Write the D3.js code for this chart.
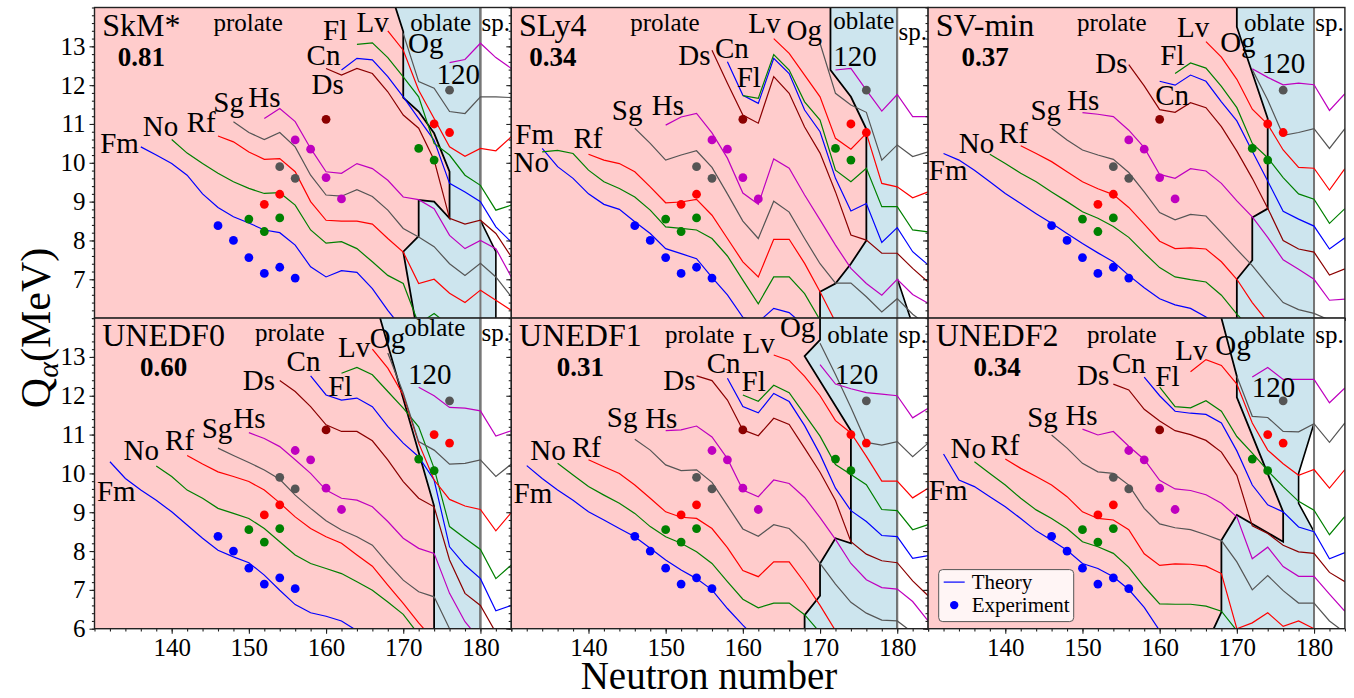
<!DOCTYPE html>
<html><head><meta charset="utf-8">
<script src="https://cdn.jsdelivr.net/npm/d3@7"></script>
<style>
html,body{margin:0;padding:0;background:#fff;}
svg{display:block;}
text{font-family:"Liberation Serif","Times New Roman",serif;fill:#000;}
</style></head><body>
<svg id="chart" width="1354" height="698"></svg>
<script>
// ---------------- data ----------------
const models = ["SkM*","SLy4","SV-min","UNEDF0","UNEDF1","UNEDF2"];
const rmsDev = ["0.81","0.34","0.37","0.60","0.31","0.34"];
const elements = ["Fm","No","Rf","Sg","Hs","Ds","Cn","Fl","Lv","Og","120"];
const xTicks = [140,150,160,170,180];
const yTicksTop = [7,8,9,10,11,12,13];
const yTicksBottom = [6,7,8,9,10,11,12,13];

// theory: [first neutron number, Q values every 2 neutrons]
const theorySkM = [
 [136,[10.41,10.2,9.98,9.68,9.2,8.85,8.61,8.45,8.27,8.2,7.88,7.32,7.06,7.22,7.18,6.76,6.2,5.7]],
 [140,[10.6,10.25,9.98,9.73,9.51,9.34,9.21,9.23,8.91,8.27,7.93,7.97,7.79,7.45,7.1,6.89,5.85,6.12,5.8]],
 [146,[10.69,10.54,10.28,10.09,10.11,9.77,9.0,8.52,8.5,8.5,8.42,8.05,7.7,6.89,7.0,6.64,6.4,6.72,6.46,6.2]],
 [148,[11.06,10.78,10.6,10.78,10.41,9.68,9.17,9.14,9.31,9.13,8.78,8.31,8.09,7.84,7.4,7.1,7.41,7.06,6.55]],
 [152,[11.14,11.4,11.06,10.37,9.77,9.73,9.98,9.85,9.55,9.12,9.05,8.82,8.13,7.79,8.0,7.79,7.06]],
 [160,[12.43,12.26,12.43,12.3,11.83,11.23,10.89,10.07,8.57,8.42,8.52,8.18,7.58]],
 [162,[12.39,12.69,12.65,12.22,11.7,11.14,10.58,9.47,9.25,9.0,8.35,7.96]],
 [164,[13.05,13.09,12.71,12.21,11.7,10.5,10.2,9.68,9.42,8.78,8.91]],
 [168,[13.4,12.9,11.87,11.14,10.41,10.17,10.37,10.31,10.67]],
 [170,[13.33,12.09,11.92,11.32,11.27,11.7,11.7,11.68]],
 [176,[12.58,12.66,13.08,12.71,12.43]]
];
const theorySLy4 = [
 [134,[10.37,9.9,9.6,9.2,8.93,8.8,8.48,8.18,7.79,7.66,7.53,7.05,6.6,6.02,5.9,6.25,6.14,5.8]],
 [134,[10.28,10.32,10.24,9.81,9.51,9.34,9.12,8.78,8.35,8.31,8.27,8.05,7.6,6.98,6.37,7.06,7.06,6.63,5.95,5.6]],
 [140,[10.22,10.07,9.98,9.77,9.38,8.97,8.99,9.06,8.65,8.05,7.45,7.06,8.03,8.03,7.41,6.68,5.9]],
 [146,[10.89,10.5,10.07,10.2,10.31,9.88,9.2,8.5,8.05,9.01,8.73,8.05,7.4,6.9,6.9,6.55,6.16,6.5,6.1,5.8]],
 [150,[10.97,11.18,11.27,10.77,10.12,9.22,8.93,10.1,9.86,9.17,8.53,7.88,7.28,6.89,6.59,7.0,6.61,6.38]],
 [156,[12.9,12.05,11.23,11.02,12.22,11.79,10.92,10.25,9.25,8.14,8.01,7.67,7.67,7.28,6.93]],
 [158,[12.6,11.74,11.53,12.69,12.3,11.36,10.8,9.6,8.76,8.95,7.95,8.33,7.71,7.37]],
 [160,[11.73,11.66,12.79,12.39,11.57,11.1,9.81,9.51,9.86,8.87,8.87,8.27,8.22]],
 [164,[13.2,12.82,12.26,11.7,10.63,10.35,10.76,9.47,9.38,9.1,9.25]],
 [170,[13.08,11.79,11.49,11.3,10.07,10.46,10.16,10.28]],
 [172,[12.39,12.43,11.87,11.33,11.76,11.19,11.19]]
];
const theorySVmin = [
 [132,[10.24,10.07,9.81,9.51,9.21,8.95,8.69,8.44,8.18,7.92,7.68,7.45,7.1,6.78,6.5,6.34,6.25,6.03,5.7]],
 [138,[10.22,9.98,9.73,9.51,9.25,9.0,8.74,8.57,8.36,8.08,7.68,7.3,7.06,6.99,6.93,6.59,6.1,5.7]],
 [142,[10.44,10.24,10.03,9.77,9.51,9.33,9.18,8.85,8.42,7.98,7.79,7.81,7.78,7.45,7.0,6.4,5.9]],
 [146,[10.89,10.59,10.33,10.2,10.09,9.75,9.25,8.72,8.53,8.67,8.63,8.2,7.77,7.35,6.86,6.4,6.22,6.12,5.95,5.7]],
 [150,[11.29,11.25,11.19,10.84,10.39,9.7,9.6,9.85,9.79,9.47,9.02,8.61,8.08,7.5,7.26,7.0,6.46,6.49]],
 [156,[12.53,11.98,11.37,11.3,11.55,11.42,10.93,10.3,9.6,8.83,8.0,7.78,7.7,7.11,7.27]],
 [160,[12.1,12.0,12.26,12.1,11.57,11.08,10.3,9.53,8.75,8.55,8.37,7.78,8.07]],
 [162,[12.3,12.57,12.44,11.97,11.42,10.5,10.13,9.62,9.2,9.06,8.44,8.82]],
 [166,[13.12,12.72,12.15,11.38,10.99,10.33,9.88,9.86,9.3,9.85]],
 [172,[12.4,11.62,10.71,10.78,10.88,10.37,10.88]],
 [172,[12.42,12.2,12.01,12.05,12.01,11.35,11.78]]
];
const theoryUNEDF0 = [
 [132,[10.3,9.87,9.57,9.31,9.01,8.67,8.33,8.02,7.85,7.7,7.38,6.99,6.62,6.41,6.32,6.2,5.95,5.7]],
 [138,[10.19,9.92,9.57,9.36,9.1,8.97,8.84,8.58,8.24,7.9,7.68,7.55,7.42,7.21,6.99,6.69,6.37,5.85]],
 [142,[10.46,10.24,10.04,9.92,9.79,9.57,9.24,8.88,8.58,8.37,8.2,7.9,7.61,7.12,6.65,6.15,5.7]],
 [146,[10.65,10.46,10.28,10.09,9.85,9.44,9.1,8.78,8.54,8.37,8.15,7.68,7.25,6.95,6.82,6.0,5.6]],
 [150,[11.05,10.9,10.69,10.35,10.0,9.57,9.36,9.31,9.14,8.76,8.33,8.07,7.94,6.91,6.18,5.7]],
 [154,[12.39,12.11,11.72,11.25,11.08,11.08,10.84,10.35,9.79,9.36,9.14,7.77,6.91,6.6,5.9]],
 [158,[12.51,12.02,11.89,11.94,11.72,11.21,10.78,10.43,9.83,8.11,7.64,7.29,6.46,6.6]],
 [162,[12.58,12.73,12.54,12.11,11.68,11.2,10.13,8.63,8.33,8.04,7.29,7.64]],
 [166,[13.2,12.71,12.02,10.78,9.83,9.33,9.16,9.07,8.52,8.99]],
 [168,[13.1,12.07,10.82,10.6,10.24,10.26,10.35,9.92,10.24]],
 [172,[12.22,12.0,11.7,11.68,11.61,10.96,11.1]]
];
const theoryUNEDF1 = [
 [132,[10.2,9.87,9.57,9.31,9.01,8.8,8.58,8.37,8.07,7.77,7.51,7.29,7.0,6.52,6.09,5.7]],
 [136,[10.26,9.96,9.66,9.44,9.23,8.97,8.63,8.37,8.2,7.98,7.68,7.21,6.76,6.54,6.66,6.66,6.36,5.9]],
 [140,[10.35,10.17,10.0,9.7,9.36,9.01,8.87,8.84,8.58,8.09,7.5,7.34,7.72,7.72,7.19,6.6,5.95]],
 [146,[10.88,10.6,10.22,10.07,10.09,9.77,9.17,8.57,8.38,8.68,8.58,8.2,7.68,7.15,6.68,6.4,6.22,6.2,5.9]],
 [150,[11.1,11.12,11.22,10.94,10.38,9.57,9.4,9.83,9.74,9.38,8.86,8.3,7.68,7.26,7.06,7.02,6.7,6.2]],
 [154,[12.51,12.39,11.89,11.12,10.97,11.42,11.26,10.65,10.03,9.3,8.24,7.92,7.75,7.7,7.23,6.85]],
 [158,[12.45,11.72,11.56,12.06,11.85,11.23,10.49,9.62,9.04,8.76,8.4,8.37,7.81,7.88]],
 [160,[12.02,11.86,12.27,12.08,11.52,10.96,10.23,9.97,9.71,9.07,9.04,8.55,8.68]],
 [164,[13.05,12.91,12.5,12.0,11.36,11.04,10.44,9.8,9.8,9.37,9.62]],
 [170,[13.35,12.55,11.7,10.8,10.73,10.82,10.43,10.78]],
 [170,[12.8,12.3,12.18,12.08,12.04,12.0,11.43,11.68]]
];
const theoryUNEDF2 = [
 [132,[10.5,9.83,9.66,9.4,9.14,8.84,8.52,8.28,8.02,7.68,7.55,7.34,7.01,6.55,5.95,5.5]],
 [136,[10.3,10.0,9.7,9.36,9.06,8.84,8.58,8.24,8.11,7.94,7.58,7.08,6.64,6.63,6.63,6.58,6.45,5.95,5.6]],
 [140,[10.37,10.13,9.92,9.7,9.4,9.01,8.84,8.8,8.55,7.93,7.63,7.67,7.66,7.61,7.42,6.0,6.15,6.41,6.06,6.2,6.0,5.8]],
 [146,[10.99,10.65,10.26,10.04,10.0,9.7,9.1,8.7,8.6,8.55,8.42,8.27,7.72,7.0,7.37,6.98,6.66,6.66,6.2,5.9]],
 [150,[11.14,10.99,11.08,10.7,10.36,9.82,9.6,9.56,9.45,9.23,8.88,7.8,8.1,7.6,7.35,7.35,6.89,6.45]],
 [154,[12.3,12.15,11.65,11.35,11.1,11.0,10.85,10.55,9.95,8.65,8.45,8.15,7.98,7.94,7.45,7.21]],
 [158,[12.48,12.0,11.6,11.55,11.52,11.3,10.58,9.7,9.19,9.01,8.62,8.5,7.8,7.96]],
 [160,[12.22,11.72,11.69,11.87,11.6,10.95,10.52,10.07,9.66,9.28,9.05,8.42,8.89]],
 [164,[12.62,12.93,12.78,12.3,11.3,10.6,10.25,9.95,10.1,9.62,10.1]],
 [170,[12.5,11.47,11.44,11.08,11.07,11.28,10.8,11.3]],
 [172,[12.48,12.73,12.42,12.42,12.42,11.82,12.2]]
];
const theory = [theorySkM, theorySLy4, theorySVmin, theoryUNEDF0, theoryUNEDF1, theoryUNEDF2];

// experiment: [neutron number, Q]
const expFm = [[146,8.38],[148,8.00],[150,7.56],[152,7.15],[154,7.31],[156,7.03]];
const expNo = [[150,8.55],[152,8.23],[154,8.58]];
const expRf = [[152,8.93],[154,9.19]];
const expSg = [[154,9.90],[156,9.60]];
const expHs = [[156,10.59],[158,10.35],[160,9.62],[162,9.07]];
const expDs = [[160,11.12]];
const expFl = [[172,10.37],[174,10.07]];
const expLv = [[174,11.00],[176,10.78]];
const expOg = [[176,11.87]];
const experiment = [expFm, expNo, expRf, expSg, expHs, expDs, [], expFl, expLv, expOg, []];

// shape-region boundaries (N, Q), top to bottom
const oblateEdges = [
 [[169,14],[170,13.38],[170,11.68],[172,11.32],[174,10.76],[176,9.77],[176,8.57],[174,9.0],[172,9.04],[172,8.11],[170,7.71],[171.5,6]],
 [[171.35,14],[171.35,12.39],[174,11.7],[176,10.87],[176,8.0],[174,7.4],[172,6.89],[170,6.68],[170,6]],
 [[170,14],[170,13.5],[174,11.14],[174,8.82],[172,8.59],[172,7.49],[170,7.0],[170,6]],
 [[167,14],[174,9.16],[174,6]],
 [[170,14],[170,13.44],[168,13.02],[174,11.1],[174,8.2],[172,8.33],[170,7.68],[170,6.85],[168,6.35],[168,6]],
 [[168,14],[170,12.5],[170,11.96],[176,9.01],[176,8.24],[170,8.93],[168,8.28],[168,6.43],[167,6]]
];
const sphericalEdges = [
 [[180,14],[180,8.52],[182,7.71],[182,6]],
 [[180,14],[180,7.02],[181.7,6]],
 [[180,14],[180,6]],
 [[180,14],[180,6]],
 [[180,14],[180,6]],
 [[180,14],[180,11.29],[178,10.0],[178,9.23],[180,8.5],[180,6]]
];

// annotation anchors in data units (N, Q)
const labelAt = [
 [[130.74,10.25],[136.26,10.69],[141.95,10.79],[145.39,11.31],[149.92,11.44],[158.12,11.77],[157.48,12.52],[159.62,13.16],[163.95,13.37],[170.62,12.83],[174.3,12.03]],
 [[130.52,10.48],[130.3,9.77],[138.06,10.38],[143.03,11.1],[148.2,11.23],[151.64,12.52],[156.39,12.7],[159.2,11.96],[160.7,13.34],[165.67,13.16],[171.7,12.49]],
 [[130.1,9.55],[133.98,10.24],[139.16,10.5],[143.26,11.1],[148.01,11.36],[151.67,12.31],[159.43,11.49],[160.08,12.52],[162.24,13.24],[167.84,12.85],[173.23,12.31]],
 [[130.31,9.29],[133.75,10.35],[139.15,10.61],[143.89,10.91],[147.98,11.17],[149.2,12.15],[154.89,12.64],[160.27,12.0],[161.56,13.01],[165.67,13.23],[170.62,12.31]],
 [[130.3,9.24],[132.46,10.35],[137.85,10.43],[142.38,11.2],[147.34,11.17],[149.7,12.15],[155.32,12.59],[159.84,12.13],[159.97,13.11],[164.8,13.52],[171.91,12.31]],
 [[130.1,9.32],[132.91,10.4],[138.09,10.48],[142.83,11.2],[147.79,11.25],[149.3,12.28],[153.83,12.59],[159.43,12.24],[162.02,12.93],[167.2,13.05],[171.94,11.98]]
];
const prolateAt = [[149.9,13.39],[149.9,13.39],[153.8,13.39],[155.3,13.41],[154.4,13.36],[155.1,13.36]];
const oblateAt  = [[174.85,13.39],[175.67,13.45],[174.87,13.39],[174.1,13.54],[174.9,13.36],[174.87,13.36]];
const spAt      = [[182,13.39],[182,13.16],[182,13.39],[182,13.41],[182,13.36],[182,13.36]];
const nameAt = [131.0,13.27];
const valueQ = 12.5;

// ---------------- drawing ----------------
const palette = ["#0000ff","#008000","#ff0000","#555555","#bf00bf","#8b0000"];
const colorOf = j => palette[j % 6];
const L = 94.5, T = 7.5, PW = 416.8, PH = 310.6;
const svg = d3.select("#chart");
const defs = svg.append("defs");

models.forEach((model, i) => {
  const col = i % 3, row = Math.floor(i / 3);
  const px = L + col * PW, py = T + row * PH;
  const x = d3.scaleLinear().domain([130,184]).range([px, px + PW]);
  const y = d3.scaleLinear().domain([6,14]).range([py + PH, py]);
  const line = d3.line().x(d => x(d[0])).y(d => y(d[1]));
  defs.append("clipPath").attr("id","clip"+i).append("rect")
    .attr("x",px).attr("y",py).attr("width",PW).attr("height",PH);
  const g = svg.append("g");
  const gc = g.append("g").attr("clip-path",`url(#clip${i})`);

  // regions
  gc.append("rect").attr("x",px).attr("y",py).attr("width",PW).attr("height",PH).attr("fill","#ffcccc");
  const obl = oblateEdges[i], sph = sphericalEdges[i];
  gc.append("path").attr("d", line([...sph,[190,5],[190,15]]) + "Z").attr("fill","#ffffff");
  gc.append("path").attr("d", line([...obl, ...sph.slice().reverse()]) + "Z").attr("fill","#cde5ee");
  gc.append("path").attr("d", line(sph)).attr("fill","none").attr("stroke","#000").attr("stroke-width",1.6);
  gc.append("path").attr("d", line([[180,14],[180,6]])).attr("fill","none").attr("stroke","#777").attr("stroke-width",2);
  gc.append("path").attr("d", line(obl)).attr("fill","none").attr("stroke","#000").attr("stroke-width",1.8);

  // theory lines
  theory[i].forEach(([n0, qs], j) => {
    const pts = qs.map((q,k) => [n0 + 2*k, q]);
    gc.append("path").attr("d", line(pts)).attr("fill","none")
      .attr("stroke", colorOf(j)).attr("stroke-width",1.2);
  });
  // experiment
  experiment.forEach((pts, j) => {
    gc.selectAll(null).data(pts).enter().append("circle")
      .attr("cx", d => x(d[0])).attr("cy", d => y(d[1])).attr("r",4.4)
      .attr("fill", colorOf(j));
  });

  // element labels
  labelAt[i].forEach((p, j) => {
    g.append("text").attr("x", x(p[0])).attr("y", y(p[1])).style("font-size","29px").text(elements[j]);
  });
  const nm = g.append("text").attr("x", x(nameAt[0])).attr("y", y(nameAt[1])).style("font-size","32px").text(model);
  const nw = nm.node().getComputedTextLength();
  g.append("text").attr("x", x(nameAt[0]) + nw/2).attr("y", y(valueQ)).attr("text-anchor","middle")
    .style("font-size","27px").style("font-weight","bold").text(rmsDev[i]);
  g.append("text").attr("x", x(prolateAt[i][0])).attr("y", y(prolateAt[i][1])).attr("text-anchor","middle").style("font-size","25px").text("prolate");
  g.append("text").attr("x", x(oblateAt[i][0])).attr("y", y(oblateAt[i][1])).attr("text-anchor","middle").style("font-size","25px").text("oblate");
  g.append("text").attr("x", x(spAt[i][0])).attr("y", y(spAt[i][1])).attr("text-anchor","middle").style("font-size","25px").text("sp.");

  // frame
  g.append("rect").attr("x",px).attr("y",py).attr("width",PW).attr("height",PH)
    .attr("fill","none").attr("stroke","#222").attr("stroke-width",1.4);

  // axes (ticks)
  const yMinor = d3.axisLeft(y).tickValues(d3.range(6,14.001,0.2)).tickSize(2.6).tickFormat("");
  const yMajor = d3.axisLeft(y).tickValues(row === 0 ? yTicksTop : yTicksBottom).tickSize(5).tickPadding(4)
    .tickFormat(col === 0 ? d3.format("d") : () => "");
  const xMinor = d3.axisBottom(x).tickValues(d3.range(130,184.001,2)).tickSize(2.8).tickFormat("");
  const xMajor = d3.axisBottom(x).tickValues(xTicks).tickSize(5).tickPadding(5)
    .tickFormat(row === 1 ? d3.format("d") : () => "");
  [[yMinor,`translate(${px},0)`],[yMajor,`translate(${px},0)`],[xMinor,`translate(0,${py+PH})`],[xMajor,`translate(0,${py+PH})`]]
   .forEach(([ax,tr]) => {
     const a = g.append("g").attr("transform",tr).call(ax);
     a.select(".domain").remove();
     a.selectAll("line").attr("stroke","#222").attr("stroke-width",1.1);
     a.selectAll("text").style("font-family","'Liberation Serif','Times New Roman',serif").style("font-size","25px").attr("fill","#000");
   });

  // legend in last panel
  if (i === 5) {
    const lg = g.append("g").attr("transform",`translate(${px+10.6},${py+251.5})`);
    lg.append("rect").attr("width",135).attr("height",52).attr("rx",4)
      .attr("fill","rgba(255,255,255,0.8)").attr("stroke","#555").attr("stroke-width",1);
    lg.append("line").attr("x1",5).attr("x2",26).attr("y1",12.5).attr("y2",12.5).attr("stroke","#0000ff").attr("stroke-width",1.2);
    lg.append("text").attr("x",33).attr("y",19).style("font-size","21px").text("Theory");
    lg.append("circle").attr("cx",15.5).attr("cy",35.5).attr("r",4.2).attr("fill","#0000ff");
    lg.append("text").attr("x",33).attr("y",42).style("font-size","21px").text("Experiment");
  }
});

// axis titles
svg.append("text").attr("x",709).attr("y",689).attr("text-anchor","middle").style("font-size","39px").text("Neutron number");
const yt = svg.append("text").attr("transform","translate(50,328) rotate(-90)").attr("text-anchor","middle").style("font-size","42px");
yt.append("tspan").text("Q");
yt.append("tspan").attr("dy",8).style("font-size","30px").style("font-style","italic").text("α");
yt.append("tspan").attr("dy",-8).text("(MeV)");
</script></body></html>
